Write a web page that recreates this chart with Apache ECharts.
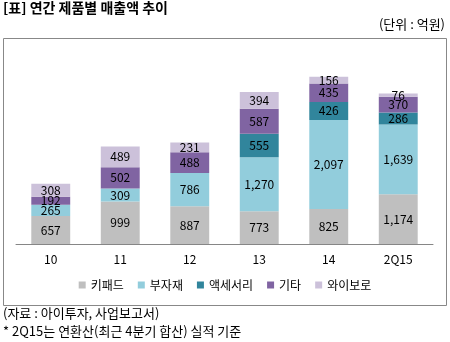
<!DOCTYPE html>
<html><head><meta charset="utf-8">
<script src="https://cdn.jsdelivr.net/npm/echarts@6/dist/echarts.min.js"></script>
<style>html,body{margin:0;padding:0;background:#fff}#c{width:450px;height:342px}</style>
</head><body><div id="c"></div>
<script>
const categories = ['10', '11', '12', '13', '14', '2Q15'];
const keypad = [657, 999, 887, 773, 825, 1174];
const materials = [265, 309, 786, 1270, 2097, 1639];
const accessory = [null, null, null, 555, 426, 286];
const etc = [192, 502, 488, 587, 435, 370];
const wibro = [308, 489, 231, 394, 156, 76];
const seriesNames = ['키패드', '부자재', '액세서리', '기타', '와이보로'];
const seriesData = [keypad, materials, accessory, etc, wibro];
const colors = ['#BFBFBF', '#92CDDC', '#31859C', '#8064A2', '#CCC1DA'];
const FONT = '"Noto Sans CJK KR", sans-serif';

const chart = echarts.init(document.getElementById('c'), null, {renderer: 'canvas'});
chart.setOption({
  animation: false,
  textStyle: {fontFamily: FONT},
  grid: {left: 16, right: 17, top: 53, bottom: 98},
  legend: {
    bottom: 46, left: 'center',
    icon: 'rect', itemWidth: 7, itemHeight: 7, itemGap: 14,
    textStyle: {fontFamily: FONT, fontSize: 12, color: '#000'},
    data: seriesNames
  },
  xAxis: {
    type: 'category', data: categories,
    axisLine: {lineStyle: {color: '#868686', width: 1}},
    axisTick: {show: false},
    axisLabel: {fontFamily: FONT, fontSize: 12, color: '#000', margin: 9}
  },
  yAxis: {type: 'value', min: 0, max: 4500, show: false, splitLine: {show: false}},
  series: seriesNames.map((n, i) => ({
    name: n, type: 'bar', stack: 'total', barWidth: '56%',
    data: seriesData[i],
    itemStyle: {color: colors[i]},
    label: {
      show: true, position: 'inside', fontFamily: FONT, fontSize: 12, color: '#000',
      formatter: p => p.value == null ? '' : Number(p.value).toLocaleString('en-US')
    }
  })),
  graphic: [
    {type: 'rect', shape: {x: 3.5, y: 38.5, width: 443, height: 267}, style: {fill: 'none', stroke: '#888', lineWidth: 1}, silent: true},
    {type: 'text', left: 3, top: 1, style: {text: '[표] 연간 제품별 매출액 추이', font: 'bold 14px ' + FONT, fill: '#000'}},
    {type: 'text', right: 5, top: 18, style: {text: '(단위 : 억원)', font: '13px ' + FONT, fill: '#000'}},
    {type: 'text', left: 3, top: 307, style: {text: '(자료 : 아이투자, 사업보고서)', font: '13px ' + FONT, fill: '#000'}},
    {type: 'text', left: 3, top: 325, style: {text: '* 2Q15는 연환산(최근 4분기 합산) 실적 기준', font: '13px ' + FONT, fill: '#000'}}
  ]
});
</script></body></html>
